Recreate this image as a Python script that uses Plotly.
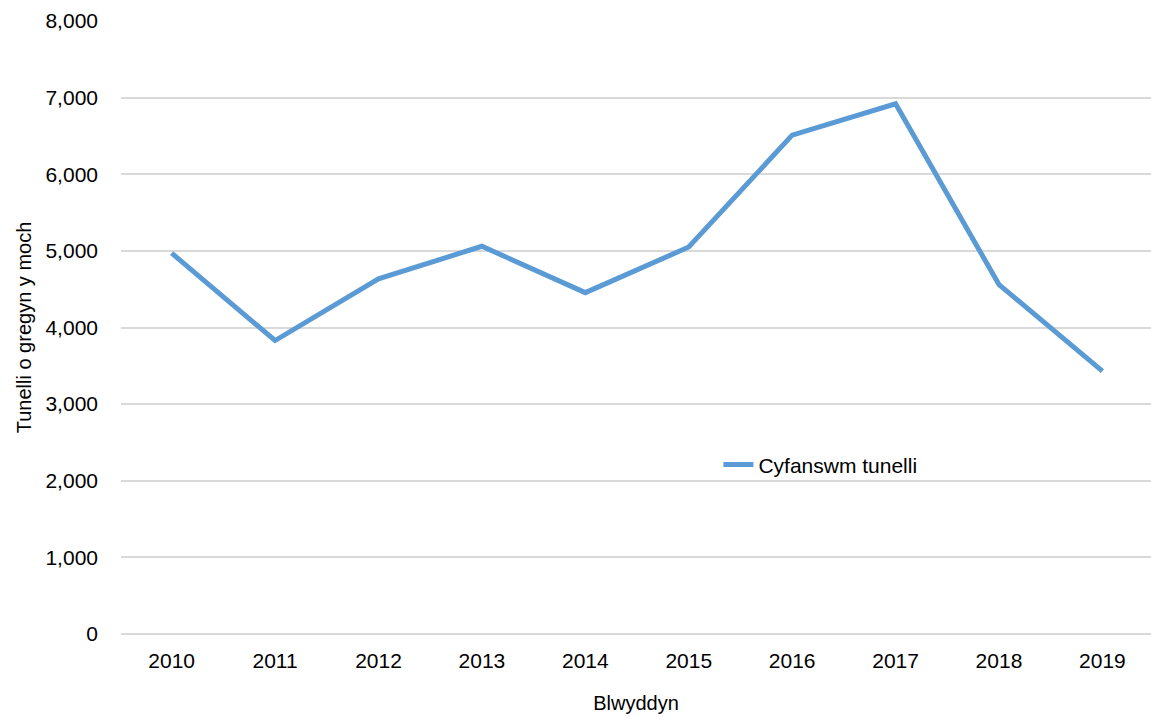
import plotly.graph_objects as go

years = ["2010", "2011", "2012", "2013", "2014", "2015", "2016", "2017", "2018", "2019"]
tonnes = [4970, 3830, 4635, 5060, 4455, 5050, 6510, 6920, 4560, 3430]

fig = go.Figure()
fig.add_trace(go.Scatter(
    x=years, y=tonnes, mode="lines", name="Cyfanswm tunelli",
    line=dict(color="#5B9BD5", width=5),
))

fig.update_layout(
    width=1151, height=717, autosize=False,
    margin=dict(l=121, r=0, t=21, b=83),
    plot_bgcolor="white", paper_bgcolor="white",
    font=dict(family="Liberation Sans, Arial, sans-serif", size=21, color="black"),
    legend=dict(x=0.58, y=0.276, xanchor="left", yanchor="middle",
                bgcolor="rgba(0,0,0,0)", font=dict(size=21)),
    showlegend=True,
)
# plot area runs a little past the right edge in the original
fig.update_xaxes(
    type="category", range=[-0.49, 9.47], showgrid=False,
    showline=False, ticks="", automargin=False, ticklabelstandoff=12,
    title=dict(text="Blwyddyn", font=dict(size=20), standoff=24),
)
fig.update_yaxes(
    range=[0, 8000], dtick=1000, tickformat=",",
    gridcolor="#d9d9d9", gridwidth=1.5, zeroline=True, zerolinecolor="#d9d9d9", zerolinewidth=1.5,
    ticks="", ticklabelstandoff=22, automargin=False,
    title=dict(text="Tunelli o gregyn y moch", font=dict(size=20), standoff=8),
)

# drop the default body margin / scrollbars so the figure fills the whole window
fix_page = (
    "document.documentElement.style.overflow='hidden';"
    "document.body.style.margin='0';"
    "document.body.style.overflow='hidden';"
    "var gd=document.getElementById('{plot_id}');"
    "gd.style.width='1151px';gd.style.height='717px';"
    "Plotly.relayout(gd,{autosize:false,width:1151,height:717});"
)
fig.write_html("out.html", post_script=fix_page,
               config={"displayModeBar": False, "responsive": False})
